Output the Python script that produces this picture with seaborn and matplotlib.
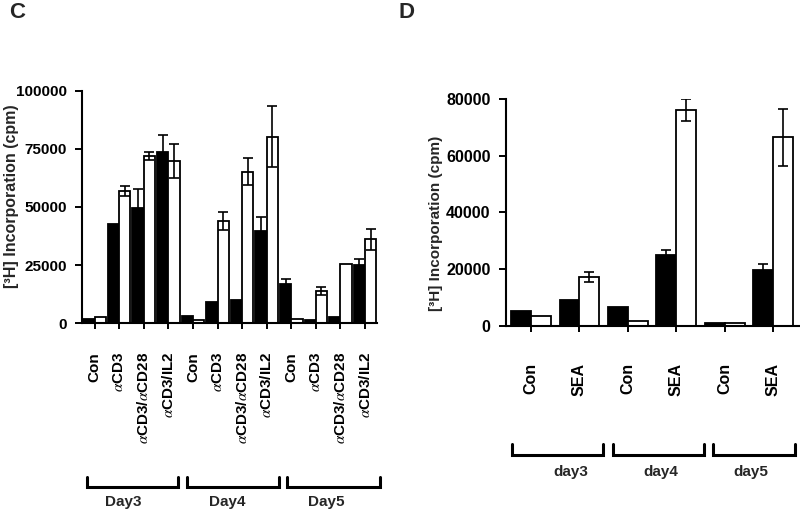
import numpy as np
import pandas as pd
import matplotlib
matplotlib.use('Agg')
import matplotlib.pyplot as plt
import matplotlib.transforms as mtransforms
import seaborn as sns

nan = np.nan

# panel C: proliferation, three days x four stimulations
c_days = ['Day3', 'Day4', 'Day5']
c_treat = ['Con', r'$\alpha$CD3', r'$\alpha$CD3/$\alpha$CD28', r'$\alpha$CD3/IL2']
c_black = [1900, 42700, 49600, 73500, 3300, 9300, 10000, 39800, 16900, 1400, 2900, 24900]
c_black_err = [nan, nan, 8000, 7400, nan, nan, nan, 6000, 2200, nan, nan, 2700]
c_white = [2700, 57000, 71800, 69800, 1400, 44000, 65200, 80200, 1900, 13900, 25500, 36200]
c_white_err = [nan, 2200, 1800, 7300, nan, 3700, 5700, 13200, nan, 1700, nan, 4500]
c_yticks = [0, 25000, 50000, 75000, 100000]

# panel D: SEA stimulation
d_days = ['day3', 'day4', 'day5']
d_treat = ['Con', 'SEA']
d_black = [5300, 9000, 6600, 25100, 1200, 19700]
d_black_err = [nan, nan, nan, 1800, nan, 2100]
d_white = [3600, 17300, 1800, 76100, 1200, 66500]
d_white_err = [nan, 1900, nan, 4000, nan, 10000]
d_yticks = [0, 20000, 40000, 60000, 80000]

sns.set_style('ticks')
plt.rcParams['font.family'] = ['Liberation Sans', 'DejaVu Sans']
plt.rcParams['mathtext.fontset'] = 'stix'

W, H = 800, 513
fig = plt.figure(figsize=(W / 100, H / 100), dpi=100)


def px(x0, y0, x1, y1):
    return [x0 / W, 1 - y1 / H, (x1 - x0) / W, (y1 - y0) / H]


def draw_panel(ax, labels, black, white, black_err, white_err, width, fs, yticks, xlim, xpad):
    n = len(black)
    df = pd.DataFrame({'pos': list(range(n)) * 2,
                       'value': black + white,
                       'series': ['filled'] * n + ['open'] * n})
    sns.barplot(data=df, x='pos', y='value', hue='series', palette=['black', 'white'],
                width=width, edgecolor='black', linewidth=1.3, errorbar=None,
                saturation=1, legend=False, ax=ax)
    off = width / 4
    for dx, vals, errs in [(-off, black, black_err), (off, white, white_err)]:
        x = np.arange(n) + dx
        ax.errorbar(x, vals, yerr=errs, fmt='none', ecolor='black',
                    elinewidth=1.2, capsize=3.6, capthick=1.2, zorder=3)
    ax.set_xlim(*xlim)
    ax.set_ylim(0, yticks[-1])
    ax.set_yticks(yticks)
    ax.set_yticklabels([str(v) for v in yticks])
    ax.set_xticks(range(n))
    ax.set_xticklabels(labels, rotation=90)
    ax.set_xlabel('')
    ax.set_ylabel('')
    sns.despine(ax=ax)
    for s in ['left', 'bottom']:
        ax.spines[s].set_linewidth(1.5)
        ax.spines[s].set_color('black')
    ax.tick_params(axis='y', length=5, width=1.4, pad=6, colors='black', labelsize=fs)
    ax.tick_params(axis='x', length=4.5, width=1.4, pad=xpad, colors='black', labelsize=fs)
    for lab in ax.get_xticklabels() + ax.get_yticklabels():
        lab.set_fontweight('bold')


def brackets(ax, spans, label_x, names, y_top, y_bot, y_text, fs):
    # group brackets under the tick labels: x in data units, y in figure pixels
    tr = mtransforms.blended_transform_factory(ax.transData, fig.transFigure)
    for (x0, x1), lx, name in zip(spans, label_x, names):
        ax.plot([x0, x0, x1, x1], [1 - y_top / H, 1 - y_bot / H, 1 - y_bot / H, 1 - y_top / H],
                color='black', lw=2.2, transform=tr, clip_on=False, solid_joinstyle='miter')
        ax.text(lx, 1 - y_text / H, name, transform=tr, ha='center', va='center',
                fontsize=fs, fontweight='bold')


ax_c = fig.add_axes(px(82.3, 90.7, 377.3, 323.3))
draw_panel(ax_c, c_treat * 3, c_black, c_white, c_black_err, c_white_err,
           0.92, 11, c_yticks, (-0.5, 11.5), 16)
brackets(ax_c, [(-0.32, 3.41), (3.75, 7.51), (7.84, 11.61)], [1.17, 5.4, 9.44],
         c_days, 476.7, 486.7, 502, 11)

ax_d = fig.add_axes(px(505.7, 99, 799, 326))
labels_d = [t for _ in d_days for t in d_treat]
draw_panel(ax_d, labels_d, d_black, d_white, d_black_err, d_white_err,
           0.82, 11.5, d_yticks, (-0.52, 5.53), 22)
brackets(ax_d, [(-0.40, 1.49), (1.69, 3.57), (3.75, 5.44)], [0.82, 2.68, 4.53],
         d_days, 444, 455, 471.7, 11)

fig.text(11.5 / W, 1 - 196 / H, '[³H] Incorporation (cpm)', rotation=90,
         ha='center', va='center', fontsize=11.5, fontweight='bold')
fig.text(435.5 / W, 1 - 223 / H, '[³H] Incorporation (cpm)', rotation=90,
         ha='center', va='center', fontsize=11, fontweight='bold')

fig.text(17 / W, 1 - 13 / H, 'C', fontsize=16, fontweight='bold', ha='center', va='center')
fig.text(407 / W, 1 - 12.5 / H, 'D', fontsize=16, fontweight='bold', ha='center', va='center')

fig.savefig('out.png', dpi=100)
